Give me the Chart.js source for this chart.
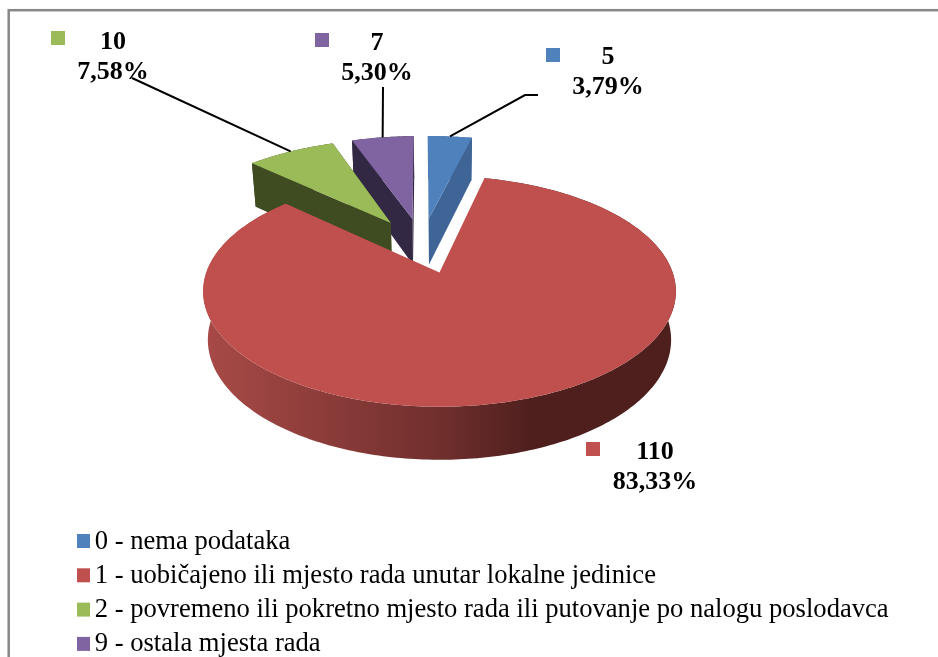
<!DOCTYPE html>
<html>
<head>
<meta charset="utf-8">
<title>Mjesto rada</title>
<script src="https://cdn.jsdelivr.net/npm/chart.js@4"></script>
<style>
  html, body { margin: 0; padding: 0; background: #fff; }
  #wrap { width: 938px; height: 657px; position: relative; }
</style>
</head>
<body>
<div id="wrap"><canvas id="chart" width="938" height="657"></canvas></div>
<script>
// ----- Data -----
const categories = [
  '0 - nema podataka',
  '1 - uobičajeno ili mjesto rada unutar lokalne jedinice',
  '2 - povremeno ili pokretno mjesto rada ili putovanje po nalogu poslodavca',
  '9 - ostala mjesta rada'
];
const counts = [5, 110, 10, 7];
const percents = ['3,79%', '83,33%', '7,58%', '5,30%'];

// ----- Styles -----
const topColors = ['#4F81BD', '#C0504D', '#9BBB59', '#8064A2'];
const wallColors = ['#3E6596', '#C0504D', '#3F4B21', '#322844'];
const labelFont = 'bold 26px "Liberation Serif"';

// label text centre, baseline of the first line, marker box, leader elbow points
const labelLayout = [
  { x: 608, y: 64, box: [546, 48], leader: [[538, 95], [525, 95]] },
  { x: 655, y: 459, box: [586, 442], leader: null },
  { x: 113, y: 49, box: [51, 31], leader: [[132, 78]] },
  { x: 377, y: 50, box: [315, 33], leader: [[383, 87]] }
];

// ----- Pie projection -----
// Excel style 3D pie with perspective: slices live on a unit disc (u right, v towards
// the viewer) and get projected onto the page, for the top face and the bottom face.
const perspective = 0.164;
const explode = 0.266;
const discCenter = [-0.076, -0.25]; // where the pie centre sits relative to the arc centre
const topFace = { sx: 1, sy: 0.481, dy: 0 };
const bottomFace = { sx: 0.98, sy: 0.5, dy: 47.7 };

function project(arc, u, v, face) {
  const w = 1 - perspective * v;
  return [
    arc.x + arc.outerRadius * face.sx * u / w,
    arc.y + face.dy + arc.outerRadius * face.sy * v / w
  ];
}

function sliceApex(arc) {
  const mid = (arc.startAngle + arc.endAngle) / 2;
  return [discCenter[0] + explode * Math.cos(mid), discCenter[1] + explode * Math.sin(mid)];
}

function rimPoints(arc, apex, face) {
  const pts = [];
  const steps = Math.ceil((arc.endAngle - arc.startAngle) * 60);
  for (let i = 0; i <= steps; i++) {
    const a = arc.startAngle + (arc.endAngle - arc.startAngle) * i / steps;
    pts.push(project(arc, apex[0] + Math.cos(a), apex[1] + Math.sin(a), face));
  }
  return pts;
}

function fillPath(ctx, pts, color) {
  ctx.beginPath();
  pts.forEach((p, i) => (i ? ctx.lineTo(p[0], p[1]) : ctx.moveTo(p[0], p[1])));
  ctx.closePath();
  ctx.fillStyle = color;
  ctx.fill();
}

function drawSlice(ctx, arc, index) {
  const apex = sliceApex(arc);
  const top = rimPoints(arc, apex, topFace);
  const bottom = rimPoints(arc, apex, bottomFace);
  const apexTop = project(arc, apex[0], apex[1], topFace);
  const apexBottom = project(arc, apex[0], apex[1], bottomFace);

  let wall = wallColors[index];
  if (index === 1) {
    // the big slice has a shaded rim, light on the left and dark on the right
    wall = ctx.createLinearGradient(205, 0, 675, 0);
    wall.addColorStop(0, '#A84A47');
    wall.addColorStop(0.5, '#702F2D');
    wall.addColorStop(0.7, '#4E1F1D');
    wall.addColorStop(1, '#4E1F1D');
  } else {
    // cut faces, hidden ones get covered by the top face
    fillPath(ctx, [apexTop, top[0], bottom[0], apexBottom], wall);
    fillPath(ctx, [apexTop, top[top.length - 1], bottom[bottom.length - 1], apexBottom], wall);
  }
  fillPath(ctx, top.concat(bottom.slice().reverse()), wall);
  fillPath(ctx, [apexTop].concat(top), topColors[index]);
}

const pie3dPlugin = {
  id: 'pie3d',
  beforeDraw(chart) {
    // outer frame
    const ctx = chart.ctx;
    ctx.save();
    ctx.strokeStyle = '#888888';
    ctx.lineWidth = 2.5;
    ctx.strokeRect(8.7, 10.2, 1000, 700);
    ctx.restore();
    // legend lives under the pie, not inside the chart area
    const legend = chart.legend;
    legend.left = 74;
    legend.top = 521.5;
    legend.right = 938;
    legend.bottom = 760;
  },
  beforeDatasetsDraw(chart) {
    const ctx = chart.ctx;
    const arcs = chart.getDatasetMeta(0).data;
    const order = arcs.map((arc, i) => i).sort((a, b) => sliceApex(arcs[a])[1] - sliceApex(arcs[b])[1]);
    ctx.save();
    order.forEach(i => drawSlice(ctx, arcs[i], i));
    ctx.restore();
    return false;
  },
  afterDraw(chart) {
    const ctx = chart.ctx;
    const arcs = chart.getDatasetMeta(0).data;
    ctx.save();
    // data labels with leader lines
    arcs.forEach((arc, i) => {
      const layout = labelLayout[i];
      ctx.fillStyle = topColors[i];
      ctx.fillRect(layout.box[0], layout.box[1], 14, 14);
      ctx.fillStyle = '#000';
      ctx.font = labelFont;
      ctx.textAlign = 'center';
      ctx.textBaseline = 'alphabetic';
      ctx.fillText(String(counts[i]), layout.x, layout.y);
      ctx.fillText(percents[i], layout.x, layout.y + 30);
      if (layout.leader) {
        const apex = sliceApex(arc);
        const mid = (arc.startAngle + arc.endAngle) / 2;
        const end = project(arc, apex[0] + Math.cos(mid), apex[1] + Math.sin(mid), topFace);
        const pts = layout.leader.concat([end]);
        ctx.beginPath();
        pts.forEach((p, k) => (k ? ctx.lineTo(p[0], p[1]) : ctx.moveTo(p[0], p[1])));
        ctx.strokeStyle = '#000';
        ctx.lineWidth = 2;
        ctx.stroke();
      }
    });
    // legend markers
    const items = chart.legend.legendItems;
    items.forEach((item, i) => {
      ctx.fillStyle = topColors[i];
      ctx.fillRect(77, 534 + i * 34.3, 13, 14);
    });
    ctx.restore();
  }
};

// ----- Chart -----
new Chart(document.getElementById('chart').getContext('2d'), {
  type: 'pie',
  data: {
    labels: categories,
    datasets: [{ data: counts, backgroundColor: topColors, borderWidth: 0 }]
  },
  options: {
    responsive: false,
    animation: false,
    rotation: -0.7,
    layout: { padding: { left: 206, right: 266, top: 39, bottom: 152 } },
    plugins: {
      tooltip: { enabled: false },
      legend: {
        position: 'chartArea',
        align: 'start',
        labels: {
          boxWidth: 0,
          padding: 7.4,
          color: '#000',
          font: { family: '"Liberation Serif"', size: 26.6 }
        }
      }
    }
  },
  plugins: [pie3dPlugin]
});
</script>
</body>
</html>
